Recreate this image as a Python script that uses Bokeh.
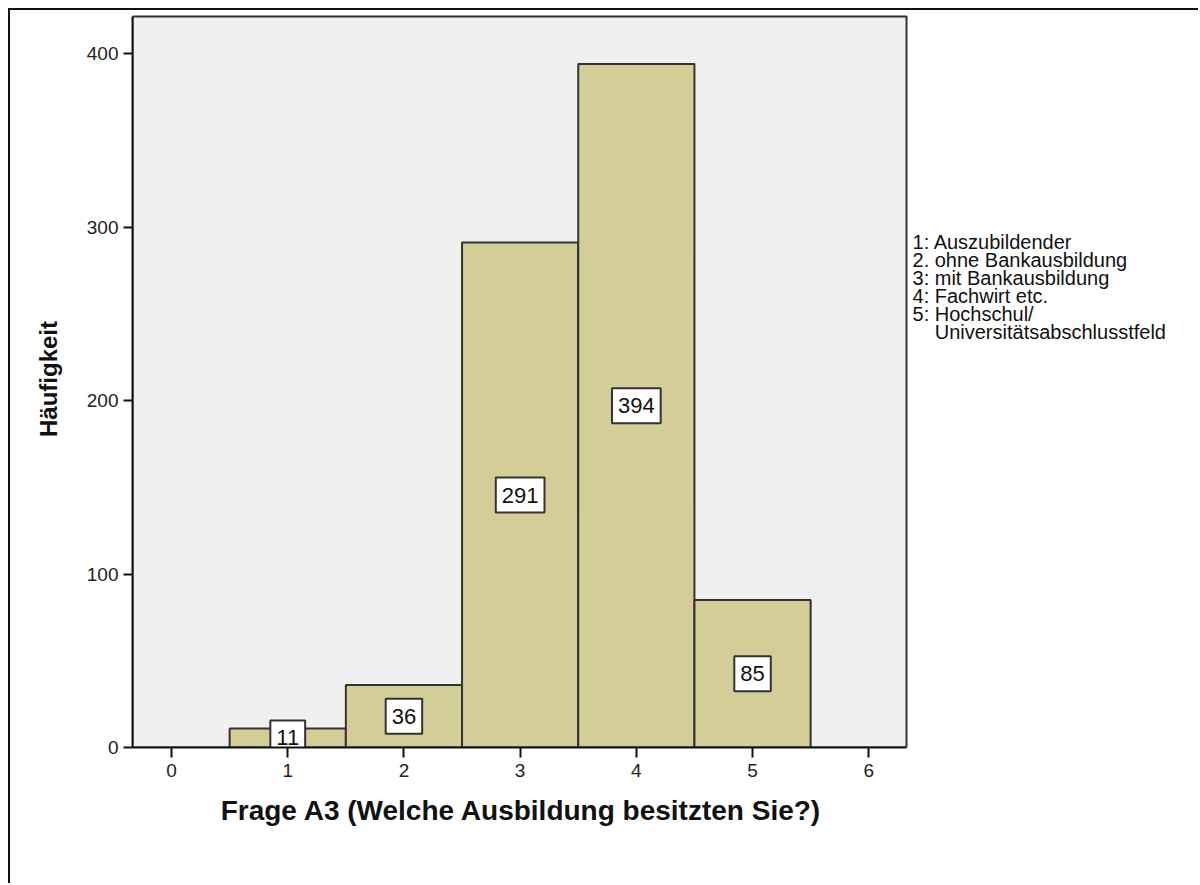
from bokeh.plotting import figure
from bokeh.models import Range1d, FixedTicker, ColumnDataSource
from bokeh.core.properties import value
from bokeh.embed import file_html
from bokeh.resources import INLINE

# Frequencies per education category
categories = [1, 2, 3, 4, 5]
counts = [11, 36, 291, 394, 85]
x_ticks = [0, 1, 2, 3, 4, 5, 6]
y_ticks = [0, 100, 200, 300, 400]
x_title = "Frage A3 (Welche Ausbildung besitzten Sie?)"
y_title = "Häufigkeit"
legend_lines = [
    "1: Auszubildender",
    "2. ohne Bankausbildung",
    "3: mit Bankausbildung",
    "4: Fachwirt etc.",
    "5: Hochschul/",
    "\u00a0\u00a0\u00a0\u00a0Universitätsabschlusstfeld",
]

FONT = "Liberation Sans"

# Data extent of the shaded plot box; the frame continues to the right
# so that the category key can sit beside the box.
X0, X1 = -0.336, 6.325
Y0, Y1 = 0.0, 421.3
PX_PER_X = 116.2
PX_PER_Y = 1.735

p = figure(
    width=1190, height=875,
    x_range=Range1d(X0, X0 + 1058 / PX_PER_X),
    y_range=Range1d(Y0, Y0 + 737 / PX_PER_Y),
    output_backend="svg", toolbar_location=None,
    min_border_left=122, min_border_right=10,
    min_border_top=0, min_border_bottom=138,
    background_fill_color="white", border_fill_color="white",
)
p.margin = (8, 0, 0, 8)
p.styles = {"border-top": "2px solid #111", "border-left": "2px solid #111"}
p.outline_line_color = None
p.grid.visible = False

# plot box
p.quad(left=[X0], right=[X1], bottom=[Y0], top=[Y1],
       fill_color="#f0f0f0", line_color="#333333", line_width=2)

src = ColumnDataSource(dict(
    x=categories,
    top=counts,
    mid=[c / 2 for c in counts],
    lbl=[str(c) for c in counts],
))

p.vbar(x="x", top="top", bottom=0, width=1.0, source=src,
       fill_color="#d3ce98", line_color="#333333", line_width=2)

p.text(x="x", y="mid", text="lbl", source=src,
       text_font=value(FONT), text_font_size="22px", text_color="#111111",
       text_align="center", text_baseline="middle",
       background_fill_color="white", border_line_color="#333333",
       border_line_width=2, padding=(6, 10))

for ax in (p.xaxis[0], p.yaxis[0]):
    ax.axis_line_color = "#111111"
    ax.axis_line_width = 2
    ax.major_tick_line_color = "#111111"
    ax.major_tick_line_width = 2
    ax.major_tick_in = 0
    ax.minor_tick_line_color = None
    ax.major_label_text_font = FONT
    ax.major_label_text_font_size = "19px"
    ax.major_label_text_color = "#222222"
    ax.axis_label_text_font = FONT
    ax.axis_label_text_font_style = "bold"
    ax.axis_label_text_color = "#111111"

p.xaxis.bounds = (X0, X1)
p.yaxis.bounds = (Y0, Y1)
p.xaxis.ticker = FixedTicker(ticks=x_ticks)
p.yaxis.ticker = FixedTicker(ticks=y_ticks)
p.xaxis.major_tick_out = 10
p.yaxis.major_tick_out = 9
p.xaxis.major_label_standoff = 6
p.yaxis.major_label_standoff = 5
# the axis label is centred on the whole frame; trailing no-break spaces
# pull the visible words back under the plot box
p.xaxis.axis_label = x_title + "\u00a0" * 36
p.yaxis.axis_label = y_title
p.xaxis.axis_label_text_font_size = "28px"
p.yaxis.axis_label_text_font_size = "24px"
p.xaxis.axis_label_standoff = 15
p.yaxis.axis_label_standoff = 22

# Category key beside the plot box, one line every 18 px
key_x = X1 + 6 / PX_PER_X
key_top = Y1 - 225 / PX_PER_Y
key_ys = [key_top - i * 18 / PX_PER_Y for i in range(len(legend_lines))]
p.text(x=[key_x] * len(legend_lines), y=key_ys, text=legend_lines,
       text_font=value(FONT), text_font_size="20px", text_color="#111111",
       text_align="left", text_baseline="middle")

open("out.html", "w").write(file_html(p, INLINE))
